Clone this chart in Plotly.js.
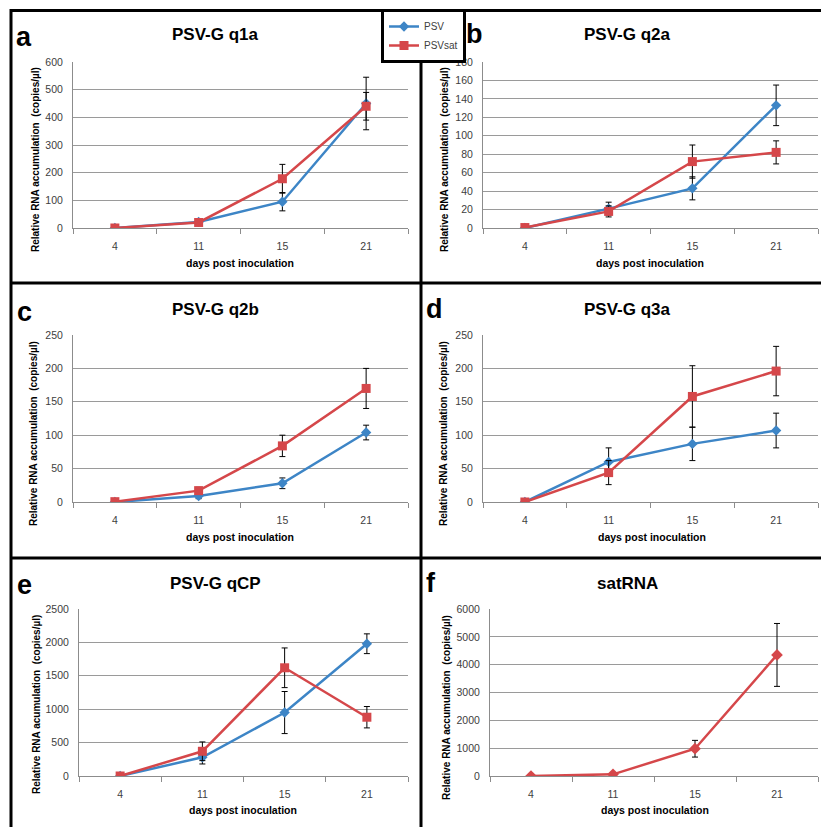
<!DOCTYPE html>
<html>
<head>
<meta charset="utf-8">
<script src="https://cdn.plot.ly/plotly-3.0.1.min.js"></script>
<style>html,body{margin:0;padding:0;background:#fff;}#chart{width:821px;height:827px;}</style>
</head>
<body>
<div id="chart"></div>
<script>
// ---- data ----
var days = ["4", "11", "15", "21"];
var seriesNames = ["PSV", "PSVsat"];

var q1a_PSV = [0, 22, 95, 450];
var q1a_PSV_err = [0, 8, 33, 95];
var q1a_sat = [0, 20, 178, 440];
var q1a_sat_err = [0, 6, 52, 50];

var q2a_PSV = [0, 21, 43, 133];
var q2a_PSV_err = [0, 7, 12.5, 22];
var q2a_sat = [0.5, 18, 72, 82];
var q2a_sat_err = [0, 6, 18, 12.5];

var q2b_PSV = [0, 9, 28, 104];
var q2b_PSV_err = [0, 4, 8, 11];
var q2b_sat = [0.5, 17, 84, 170];
var q2b_sat_err = [0, 5, 16, 30];

var q3a_PSV = [0, 60, 87, 107];
var q3a_PSV_err = [0, 21, 25, 26];
var q3a_sat = [0, 44, 158, 196];
var q3a_sat_err = [0, 18, 46, 37];

var qCP_PSV = [0, 280, 950, 1980];
var qCP_PSV_err = [0, 100, 315, 148];
var qCP_sat = [0, 370, 1620, 880];
var qCP_sat_err = [0, 140, 297, 160];

var satRNA = [0, 60, 980, 4350];
var satRNA_err = [0, 20, 300, 1130];

var panelTitles = ["PSV-G q1a", "PSV-G q2a", "PSV-G q2b", "PSV-G q3a", "PSV-G qCP", "satRNA"];
var panelLetters = ["a", "b", "c", "d", "e", "f"];
var yTitle = "Relative RNA accumulation  (copies/µl)";
var yTitleE = "Relative RNA acumulation  (copies/µl)";
var xTitle = "days post inoculation";
var yRanges = [[0, 600], [0, 180], [0, 250], [0, 250], [0, 2500], [0, 6000]];
var yDticks = [100, 20, 50, 50, 500, 1000];

// ---- layout helpers ----
var W = 821, H = 827;
function px(x) { return x / W; }
function py(y) { return 1 - y / H; }

var BLUE = "#3D85C6", RED = "#D5474A";
var FONT = "Liberation Sans, Arial, sans-serif";

// plot areas in pixel coordinates [x0, x1, yTop, yBottom]
var boxes = [
  [73, 408, 62, 228],
  [483, 818, 62, 228],
  [73, 408, 335, 502],
  [483, 818, 335, 502],
  [79, 408, 609, 776],
  [490, 818, 609, 776]
];
// text positions
var titlePos = [[215, 35], [627, 35], [215, 309], [627, 309], [215, 583], [627, 583]];
var letterPos = [[24, 37], [475, 34], [24, 312], [435, 309], [24, 585], [431, 583]];
var yTitlePos = [[35, 160], [444, 160], [34, 434], [444, 434], [36, 705], [446, 707]];
var xTitlePos = [[240, 263], [650, 263], [240, 537], [652, 537], [243, 810], [655, 810]];

var pairs = [
  [q1a_PSV, q1a_PSV_err, q1a_sat, q1a_sat_err],
  [q2a_PSV, q2a_PSV_err, q2a_sat, q2a_sat_err],
  [q2b_PSV, q2b_PSV_err, q2b_sat, q2b_sat_err],
  [q3a_PSV, q3a_PSV_err, q3a_sat, q3a_sat_err],
  [qCP_PSV, qCP_PSV_err, qCP_sat, qCP_sat_err]
];

var traces = [];
var layout = {
  width: W, height: H,
  margin: {l: 0, r: 0, t: 0, b: 0},
  paper_bgcolor: "#fff", plot_bgcolor: "#fff",
  font: {family: FONT, color: "#404040"},
  showlegend: true,
  legend: {
    x: px(381), y: py(9), xanchor: "left", yanchor: "top",
    bgcolor: "#fff", bordercolor: "#000", borderwidth: 3,
    font: {family: FONT, size: 10, color: "#404040"},
    itemwidth: 30, tracegroupgap: 0
  },
  annotations: [],
  shapes: []
};

function errObj(arr) {
  return {type: "data", array: arr, visible: true, color: "#000", thickness: 1, width: 3};
}

for (var i = 0; i < 6; i++) {
  var ax = i === 0 ? "" : String(i + 1);
  var xa = "x" + ax, ya = "y" + ax;
  if (i < 5) {
    traces.push({
      x: days, y: pairs[i][0], error_y: errObj(pairs[i][1]),
      xaxis: xa, yaxis: ya, type: "scatter", mode: "lines+markers",
      name: seriesNames[0], legendgroup: "psv", showlegend: i === 0,
      line: {color: BLUE, width: 2.5},
      marker: {symbol: "diamond", size: 8, color: BLUE}
    });
    traces.push({
      x: days, y: pairs[i][2], error_y: errObj(pairs[i][3]),
      xaxis: xa, yaxis: ya, type: "scatter", mode: "lines+markers",
      name: seriesNames[1], legendgroup: "sat", showlegend: i === 0,
      line: {color: RED, width: 2.5},
      marker: {symbol: "square", size: 9, color: RED}
    });
  } else {
    traces.push({
      x: days, y: satRNA, error_y: errObj(satRNA_err),
      xaxis: xa, yaxis: ya, type: "scatter", mode: "lines+markers",
      name: "satRNA", showlegend: false,
      line: {color: RED, width: 2.5},
      marker: {symbol: "diamond", size: 9, color: RED}
    });
  }
  var b = boxes[i];
  layout["xaxis" + ax] = {
    domain: [px(b[0]), px(b[1])], anchor: ya,
    type: "category", range: [-0.5, 3.5],
    showgrid: false, zeroline: false,
    showline: true, linecolor: "#8C8C8C", linewidth: 1,
    ticks: "outside", tickson: "boundaries", ticklen: 5, tickcolor: "#8C8C8C",
    ticklabelstandoff: 8,
    tickfont: {family: FONT, size: 10.5, color: "#404040"}, fixedrange: true
  };
  layout["yaxis" + ax] = {
    domain: [py(b[3]), py(b[2])], anchor: xa,
    range: yRanges[i], dtick: yDticks[i], tick0: 0,
    showgrid: true, gridcolor: "#9A9A9A", gridwidth: 1,
    zeroline: false, showline: true, linecolor: "#8C8C8C", linewidth: 1,
    ticks: "", ticklabelstandoff: 7,
    tickfont: {family: FONT, size: 10.5, color: "#404040"}, fixedrange: true
  };
  layout.annotations.push({
    xref: "paper", yref: "paper", x: px(titlePos[i][0]), y: py(titlePos[i][1]),
    xanchor: "center", yanchor: "middle", showarrow: false,
    text: "<b>" + panelTitles[i] + "</b>",
    font: {family: FONT, size: 17, color: "#000"}
  });
  layout.annotations.push({
    xref: "paper", yref: "paper", x: px(letterPos[i][0]), y: py(letterPos[i][1]),
    xanchor: "center", yanchor: "middle", showarrow: false,
    text: "<b>" + panelLetters[i] + "</b>",
    font: {family: FONT, size: 27, color: "#000"}
  });
  layout.annotations.push({
    xref: "paper", yref: "paper", x: px(yTitlePos[i][0]), y: py(yTitlePos[i][1]),
    xanchor: "center", yanchor: "middle", showarrow: false, textangle: -90,
    text: "<b>" + (i === 4 ? yTitleE : yTitle) + "</b>",
    font: {family: FONT, size: 10, color: "#000"}
  });
  layout.annotations.push({
    xref: "paper", yref: "paper", x: px(xTitlePos[i][0]), y: py(xTitlePos[i][1]),
    xanchor: "center", yanchor: "middle", showarrow: false,
    text: "<b>" + xTitle + "</b>",
    font: {family: FONT, size: 10.5, color: "#000"}
  });
}

// panel frames
function hline(y, x0, x1) {
  return {type: "line", xref: "paper", yref: "paper", x0: px(x0), x1: px(x1), y0: py(y), y1: py(y),
          line: {color: "#000", width: 3}, layer: "above"};
}
function vline(x, y0, y1) {
  return {type: "line", xref: "paper", yref: "paper", x0: px(x), x1: px(x), y0: py(y0), y1: py(y1),
          line: {color: "#000", width: 3}, layer: "above"};
}
layout.shapes.push(hline(10.5, 10, 821));
layout.shapes.push(hline(283, 10, 821));
layout.shapes.push(hline(558, 10, 821));
layout.shapes.push(vline(11, 9, 827));
layout.shapes.push(vline(421, 9, 827));

Plotly.newPlot("chart", traces, layout, {displayModeBar: false, staticPlot: true});
</script>
</body>
</html>
